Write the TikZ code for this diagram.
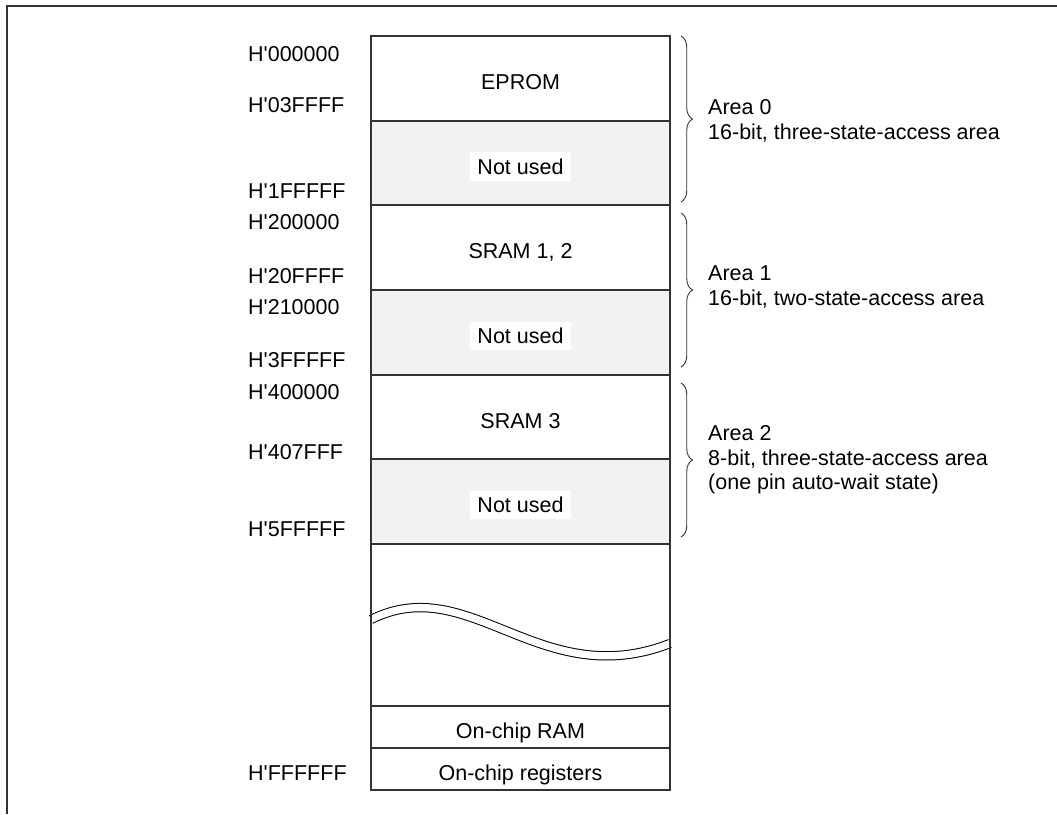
\documentclass[tikz,border=0pt]{standalone}
\usepackage{fontspec}
\setmainfont{Liberation Sans}
\usepackage{xcolor}
\definecolor{unusedGrey}{HTML}{F2F2F2}
\definecolor{lineGrey}{HTML}{333333}
\usetikzlibrary{positioning, decorations.pathreplacing}
\newcommand{\addrlabel}[1]{H\textquotesingle#1}

\begin{document}
\begin{tikzpicture}[
    x=1pt, y=-1pt,
    font=\fontsize{21.5pt}{24.5pt}\selectfont,
    node distance=0pt,
    memRow/.style={draw=lineGrey, line width=1.1pt, outer sep=0pt, minimum width=299pt, text height=22pt, text depth=0pt, inner sep=0pt},
    freeRow/.style={memRow, fill=unusedGrey},
    tagNode/.style={fill=white, inner xsep=7.5pt, inner ysep=6.5pt},
    addrNode/.style={anchor=west, inner sep=0pt},
    areaNode/.style={anchor=west, align=left, inner sep=0pt},
    areaBrace/.style={draw=lineGrey, line width=0.9pt, decorate, decoration={brace, amplitude=11.5pt}}
]
\useasboundingbox (0,0) rectangle (1057,814);

% outer frame, cut off at the right and at the bottom
\draw[line width=1.4pt, lineGrey] (7,814) -- (7,6) -- (1057,6);

% break in the address space
\draw[double, double distance=7.3pt, line width=1pt] (371,619.5) .. controls (470,570) and (540,694) .. (670,643.5);

% Memory map column
\node[memRow, minimum height=85pt, anchor=north west] (eprom) at (371,36) {EPROM};
\node[freeRow, minimum height=84pt, below=of eprom] (free0) {};
\node[memRow, minimum height=85pt, below=of free0] (sram12) {SRAM 1, 2};
\node[freeRow, minimum height=85pt, below=of sram12] (free1) {};
\node[memRow, minimum height=84pt, below=of free1] (sram3) {SRAM 3};
\node[freeRow, minimum height=85pt, below=of sram3] (free2) {};
\node[memRow, minimum height=162pt, below=of free2] (gap) {};
\node[memRow, minimum height=42pt, below=of gap] (ram) {On-chip RAM};
\node[memRow, minimum height=42pt, below=of ram] (regs) {On-chip registers};

% labels in the unused rows
\node[tagNode] (tag0) at ([yshift=-3.5pt]free0.center) {Not used};
\node[tagNode] (tag1) at ([yshift=-3.5pt]free1.center) {Not used};
\node[tagNode] (tag2) at ([yshift=-3.5pt]free2.center) {Not used};

% Addresses
\foreach \ya/\hexval in {53.7/000000, 105/03FFFF, 191.5/1FFFFF, 222/200000, 276/20FFFF,
    307.5/210000, 360/3FFFFF, 392/400000, 452/407FFF, 529/5FFFFF, 773/FFFFFF}
    \node[addrNode] (addr\hexval) at (248,\ya) {\addrlabel{\hexval}};

% Areas
\coordinate (b0top) at (681,36);
\coordinate (b0bot) at (681,202);
\coordinate (b1top) at (681,213);
\coordinate (b1bot) at (681,367);
\coordinate (b2top) at (681,383);
\coordinate (b2bot) at (681,537);
\draw[areaBrace] (b0top) -- (b0bot);
\draw[areaBrace] (b1top) -- (b1bot);
\draw[areaBrace] (b2top) -- (b2bot);

\node[areaNode] (area0) at (708,121) {Area 0\\16-bit, three-state-access area};
\node[areaNode] (area1) at (708,287) {Area 1\\16-bit, two-state-access area};
\node[areaNode] (area2) at (708,460) {Area 2\\8-bit, three-state-access area\\(one pin auto-wait state)};

\end{tikzpicture}
\end{document}
